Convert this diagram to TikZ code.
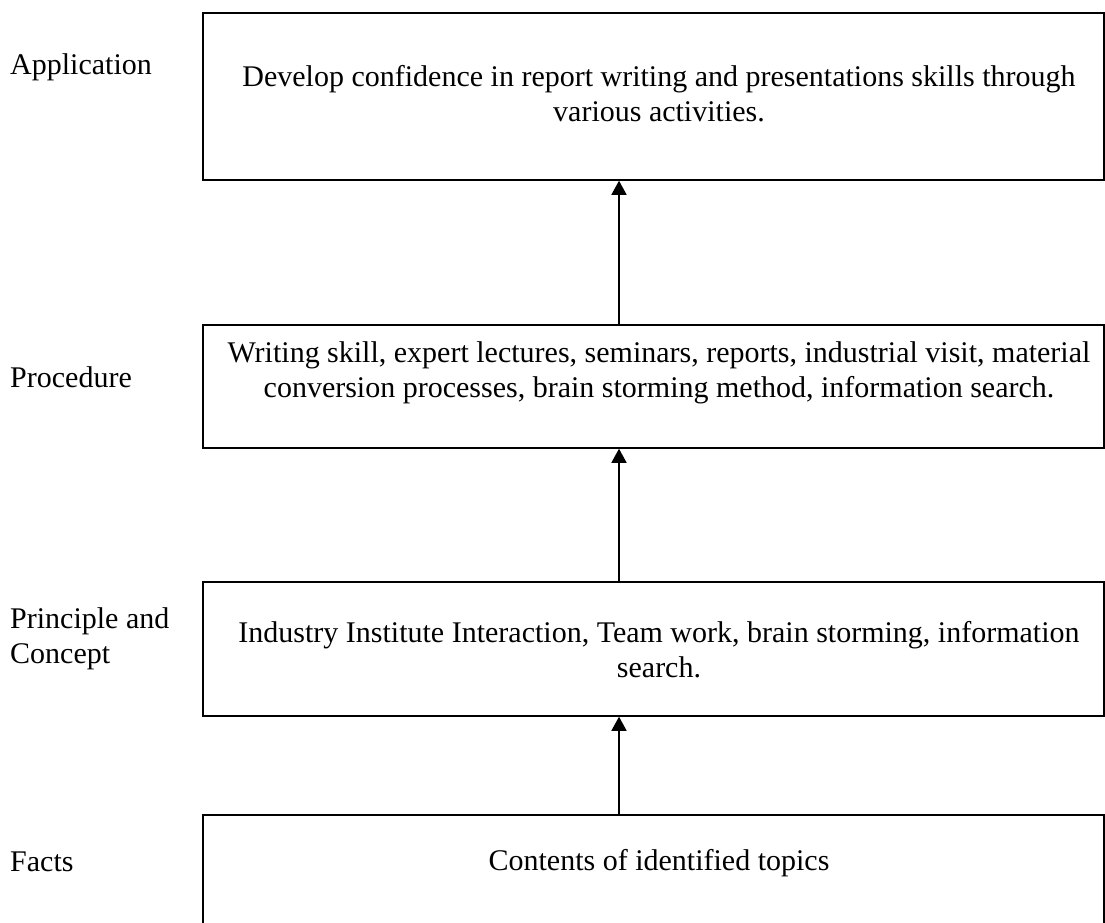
\documentclass[tikz,border=0pt]{standalone}
\usepackage{fontspec}
\setmainfont{Liberation Serif}
\usetikzlibrary{arrows.meta}

\tikzstyle{stagebox} = [draw, line width=1.5pt, minimum width=901pt, inner sep=0pt]
\tikzstyle{stagetext} = [align=center, anchor=base, inner sep=0pt, font=\fontsize{30}{35.5}\selectfont]
\tikzstyle{stagename} = [align=left, anchor=base west, inner sep=0pt, font=\fontsize{30}{35.5}\selectfont]
\tikzstyle{rise} = [-{Triangle[width=15pt,length=14pt]}, line width=1.5pt]

\begin{document}
\begin{tikzpicture}[x=1pt,y=-1pt]
	\useasboundingbox (0,0) rectangle (1105,923);
	\clip (0,0) rectangle (1105,923);
	\node[stagebox, minimum height=167pt] (app) at (653.5,96.5) {};
	\node[stagebox, minimum height=123pt] (proc) at (653.5,386.5) {};
	\node[stagebox, minimum height=134pt] (prin) at (653.5,649) {};
	\node[stagebox, minimum height=145pt] (fact) at (653.5,887.5) {};
	\node[stagetext] (appt) at (659,121.5) {Develop confidence in report writing and presentations skills through\\various activities.};
	\node[stagetext] (proct) at (659,397.5) {Writing skill, expert lectures, seminars, reports, industrial visit, material\\conversion processes, brain storming method, information search.};
	\node[stagetext] (print) at (659,677.5) {Industry Institute Interaction, Team work, brain storming, information\\search.};
	\node[stagetext] (factt) at (659,870) {Contents of identified topics};
	\node[stagename] (l1) at (10,75) {Application};
	\node[stagename] (l2) at (10,387) {Procedure};
	\node[stagename] (l3) at (10,663.5) {Principle and\\Concept};
	\node[stagename] (l4) at (10,871) {Facts};
	\coordinate (ax) at (619,0);
	\draw[rise] (fact.north -| ax) -- (prin.south -| ax);
	\draw[rise] (prin.north -| ax) -- (proc.south -| ax);
	\draw[rise] (proc.north -| ax) -- (app.south -| ax);
\end{tikzpicture}
\end{document}
